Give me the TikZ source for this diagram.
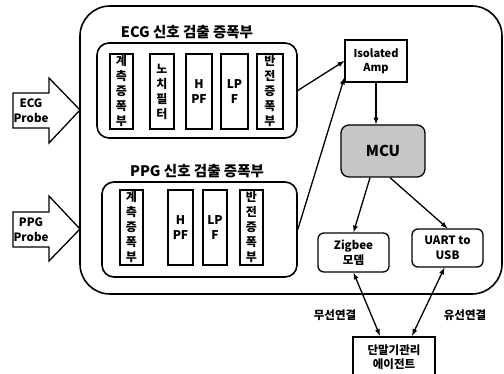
\documentclass[tikz,border=0pt]{standalone}
\usepackage{fontspec}
\setmainfont{Noto Sans CJK KR}
\usetikzlibrary{shapes,arrows,positioning,calc}

\begin{document}
\begin{tikzpicture}[
            x=1pt, y=-1pt,
            >=latex,
            every node/.style={font=\fontsize{11.5}{14.5}\selectfont\bfseries, align=center},
            outer/.style={draw, line width=1.6pt, rounded corners=30pt, inner sep=0},
            grp/.style={draw, line width=1.6pt, rounded corners=12pt, inner sep=0, minimum height=95pt},
            blk/.style={draw, line width=1.3pt, minimum height=75pt, inner sep=0, font=\fontsize{12}{15}\selectfont\bfseries},
            box/.style={draw, line width=1.3pt, rounded corners=6pt, inner sep=0},
            ttl/.style={font=\fontsize{14.5}{16}\selectfont\bfseries},
            probe/.style={draw, line width=1.3pt, line join=miter},
            ln/.style={line width=1.3pt},
        ]
            \useasboundingbox (0,0) rectangle (504,374);
            % system outline
            \node[outer, minimum width=422pt, minimum height=288pt] (sys) at (291,150) {};
            % ECG chain
            \node[ttl] (ecgt) at (187,32) {ECG 신호 검출 증폭부};
            \node[grp, minimum width=200pt] (ecgbox) at (197,90.5) {};
            \node[blk, minimum width=23pt] (e1) at (121.5,91.5) {계\\측\\증\\폭\\부};
            \node[blk, minimum width=24pt] (e2) at (162,91.5) {노\\치\\필\\터};
            \node[blk, minimum width=26pt] (e3) at (199,91.5) {H\\PF};
            \node[blk, minimum width=27pt] (e4) at (234.5,91.5) {LP\\F};
            \node[blk, minimum width=26pt] (e5) at (270,91.5) {반\\전\\증\\폭\\부};
            % PPG chain
            \node[ttl] (ppgt) at (197,171) {PPG 신호 검출 증폭부};
            \node[grp, minimum width=195pt] (ppgbox) at (199.5,229.5) {};
            \node[blk, minimum width=23pt] (p1) at (131.5,227.5) {계\\측\\증\\폭\\부};
            \node[blk, minimum width=25pt] (p2) at (180.5,227.5) {H\\PF};
            \node[blk, minimum width=24pt] (p3) at (215,227.5) {LP\\F};
            \node[blk, minimum width=23pt] (p4) at (251.5,227.5) {반\\전\\증\\폭\\부};
            % probes
            \draw[probe] (13,93) -- (49,93) -- (49,78) -- (80,110) -- (49,143) -- (49,128) -- (13,128) -- cycle;
            \node (ecgp) at (31,110.5) {ECG\\Probe};
            \draw[probe] (13,212) -- (49,212) -- (49,196) -- (80,229) -- (49,261) -- (49,247) -- (13,247) -- cycle;
            \node (ppgp) at (31,229.5) {PPG\\Probe};
            % right side
            \node[draw, ln, minimum width=62pt, minimum height=42pt, inner sep=0, font=\fontsize{11}{14}\selectfont\bfseries] (iso) at (376,61) {Isolated\\Amp};
            \node[box, rounded corners=8pt, fill=gray!45, minimum width=84pt, minimum height=52pt, font=\fontsize{15}{17}\selectfont\bfseries] (mcu) at (383,151) {MCU};
            \node[box, minimum width=71pt, minimum height=39pt] (zig) at (353.5,252.5) {Zigbee\\모뎀};
            \node[box, minimum width=71pt, minimum height=38pt] (uart) at (447.5,248) {UART to\\USB};
            \node[draw, line width=2.4pt, minimum width=82pt, minimum height=40pt, inner sep=0] (agent) at (394,357) {단말기관리\\에이전트};
            \node (wl) at (335,315) {무선연결};
            \node (wd) at (465,315) {유선연결};
            % connections
            \draw[->,ln] (ecgbox.east) -- (iso.west);
            \draw[->,ln] (ppgbox.east) -- ([yshift=5pt]iso.south west);
            \draw[->,ln] (iso.south) -- (iso.south |- mcu.north);
            \draw[->,ln] ([xshift=-13pt]mcu.south) -- (zig.north);
            \draw[->,ln] ([xshift=7pt]mcu.south) -- (uart.north);
            \draw[<->,ln] (zig.south) -- ([xshift=-14pt]agent.north);
            \draw[<->,ln] ([xshift=-3pt]uart.south) -- ([xshift=18pt]agent.north);
        \end{tikzpicture}
\end{document}
